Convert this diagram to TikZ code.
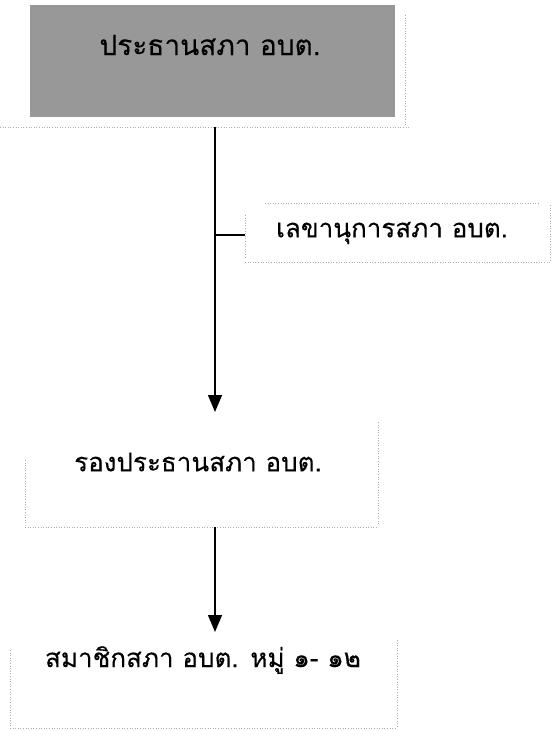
\documentclass[tikz,border=0pt]{standalone}
\usepackage{fontspec}
\newfontfamily\thaifont[Script=Thai,FakeBold=0.2]{Loma}
\usetikzlibrary{arrows.meta}
\definecolor{boxgray}{RGB}{152,152,152}
\definecolor{faint}{RGB}{175,175,175}
\tikzset{
  frame/.style={draw=none, inner sep=0pt, outer sep=0pt},
  label/.style={font=\thaifont\fontsize{26}{30}\selectfont, inner sep=0pt},
  biglabel/.style={font=\thaifont\fontsize{28}{32}\selectfont, inner sep=0pt},
  faintline/.style={draw=faint, line width=0.6pt, dotted},
  conn/.style={line width=1.4pt, black},
  arrowconn/.style={conn, -{Triangle[width=14pt,length=17pt]}}
}
\begin{document}
\begin{tikzpicture}[x=1pt,y=-1pt]
\useasboundingbox (0,0) rectangle (555,731);
% chairman box
\node[frame, fill=boxgray, minimum width=365pt, minimum height=112pt] (chair) at (212.5,61) {};
\node[biglabel] (chairtxt) at (210,45) {ประธานสภา อบต.};
\draw[faintline] (405,15) -- (405,125);
\draw[faintline] (0,127) -- (410,127);
\coordinate (c1) at (215,127);
% secretary
\node[frame, minimum width=302pt, minimum height=57pt] (sec) at (396,231.5) {};
\node[label] (sectxt) at (392,233) {เลขานุการสภา อบต.};
\draw[faintline] (265,203) -- (540,203);
\draw[faintline] (245,215) -- (245,258);
\draw[faintline] (550,205) -- (550,262);
\draw[faintline] (245,262) -- (550,262);
% vice chairman
\node[frame, minimum width=353pt, minimum height=115pt] (vice) at (201.5,469.5) {};
\node[label] (vicetxt) at (198,462) {รองประธานสภา อบต.};
\draw[faintline] (25,460) -- (25,525);
\draw[faintline] (378,422) -- (378,525);
\draw[faintline] (25,527) -- (378,527);
% members
\node[frame, minimum width=387pt, minimum height=96pt] (mem) at (203.5,680) {};
\node[label] (memtxt) at (203,660) {สมาชิกสภา อบต. หมู่ ๑- ๑๒};
\draw[faintline] (10,650) -- (10,728);
\draw[faintline] (397,640) -- (397,728);
\draw[faintline] (10,728) -- (397,728);
% connectors
\coordinate (c2) at (215,235);
\draw[arrowconn] (c1) -- (vice.north -| c1);
\draw[conn] (c2) -- (sec.west |- c2);
\coordinate (c3) at (215,527);
\draw[arrowconn] (c3) -- (mem.north -| c3);
\end{tikzpicture}
\end{document}
